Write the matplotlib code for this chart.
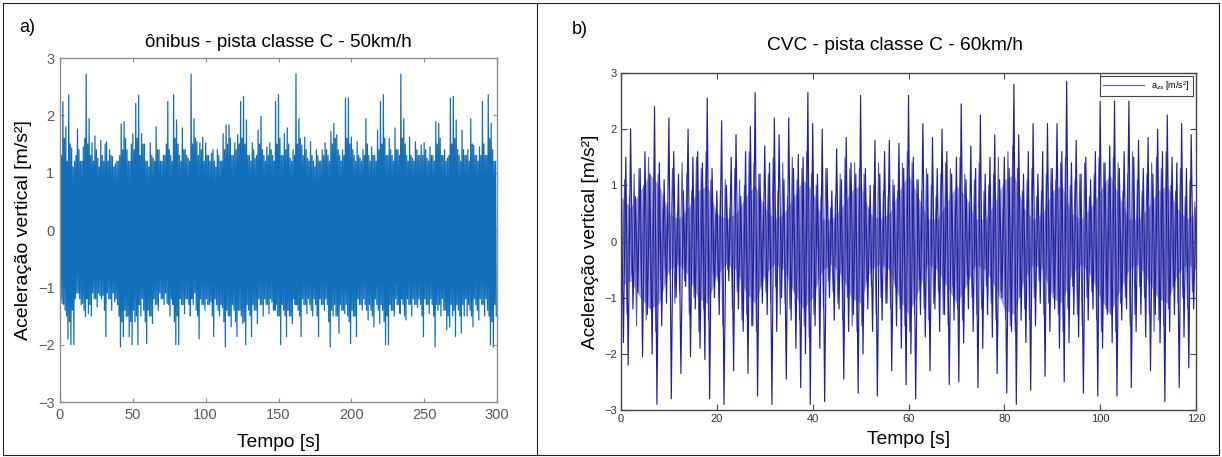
import numpy as np
import matplotlib
matplotlib.use("Agg")
import matplotlib.pyplot as plt
from matplotlib.lines import Line2D

plt.rcParams['font.family'] = ['Liberation Sans', 'DejaVu Sans']

# ---------------- Panel a data ----------------
# main spike peaks per 2 s bin
a_step = 2.0
a_upper = [1.48, 2.24, 1.8, 2.36, 1.43, 1.2, 1.76, 1.2, 1.45, 2.72,
           1.94, 1.52, 1.64, 1.25, 1.56, 1.2, 1.54, 1.4, 1.28, 1.15,
           1.2, 1.85, 1.89, 1.4, 1.2, 1.68, 2.21, 2.35, 1.68, 1.5,
           1.2, 1.52, 1.25, 1.8, 1.4, 1.2, 1.3, 2.24, 1.3, 2.36,
           1.92, 1.3, 1.78, 1.4, 1.25, 2.72, 1.94, 1.54, 1.52, 1.62,
           1.52, 1.3, 1.34, 1.2, 1.4, 1.2, 1.68, 1.83, 1.83, 1.3,
           1.52, 1.66, 2.24, 2.33, 1.92, 1.3, 1.52, 1.25, 1.74, 1.98,
           1.3, 1.45, 1.52, 1.3, 2.24, 2.36, 1.3, 1.68, 1.78, 1.25,
           1.4, 2.72, 1.94, 1.48, 1.62, 1.25, 1.54, 1.2, 1.4, 1.2,
           1.4, 1.52, 1.3, 1.72, 1.86, 1.66, 1.3, 1.4, 2.3, 2.3,
           1.62, 1.3, 1.54, 1.25, 1.4, 1.94, 1.3, 1.45, 1.3, 1.74,
           2.24, 2.36, 1.3, 1.6, 1.3, 1.78, 1.4, 2.72, 1.94, 1.3,
           1.62, 1.25, 1.54, 1.3, 1.48, 1.52, 1.25, 1.45, 1.3, 1.89,
           1.86, 1.3, 1.4, 1.25, 2.3, 2.33, 1.92, 1.3, 1.74, 1.3,
           1.4, 1.94, 1.48, 1.3, 1.45, 2.24, 1.3, 2.36, 1.86, 1.2]
a_lower = [-1.28, -1.4, -1.9, -2.0, -2.0, -1.1, -1.2, -1.28, -1.51, -1.46,
           -1.5, -1.2, -1.34, -1.15, -1.14, -1.86, -1.2, -1.4, -1.25, -1.3,
           -2.04, -1.86, -1.51, -1.86, -2.0, -1.6, -2.0, -1.5, -1.4, -1.98,
           -1.5, -1.63, -1.3, -1.4, -1.2, -1.3, -1.28, -1.5, -1.3, -2.0,
           -2.0, -1.3, -1.46, -1.2, -1.5, -1.3, -1.4, -1.9, -1.3, -1.4,
           -1.3, -1.25, -1.86, -1.3, -1.5, -1.35, -2.04, -1.5, -1.69, -1.4,
           -1.86, -1.4, -1.63, -2.0, -1.4, -1.86, -1.4, -1.63, -1.3, -1.5,
           -1.3, -1.46, -1.25, -1.4, -1.5, -2.0, -1.4, -1.86, -1.5, -1.63,
           -1.3, -1.4, -1.86, -1.3, -1.46, -1.3, -1.5, -1.3, -1.86, -1.3,
           -1.4, -1.3, -2.04, -1.5, -1.5, -1.8, -1.4, -1.46, -1.5, -1.98,
           -1.5, -1.86, -1.3, -1.4, -1.3, -1.57, -1.4, -1.69, -1.3, -1.63,
           -1.4, -2.0, -2.0, -1.4, -1.5, -1.3, -1.46, -1.3, -1.57, -1.3,
           -1.5, -1.3, -1.35, -1.3, -1.86, -1.3, -1.46, -1.3, -2.04, -1.4,
           -1.5, -1.4, -1.74, -1.69, -1.5, -1.86, -1.4, -1.8, -1.5, -1.5,
           -1.4, -1.69, -1.3, -1.57, -1.3, -1.5, -1.4, -2.0, -2.04, -1.5]
# secondary (in-between) peaks per 2 s bin
a_upper2 = [1.3, 1.6, 1.2, 1.5, 1.1, 1.3, 1.4, 1.2, 1.6, 1.5,
            1.3, 1.2, 1.4, 1.1, 1.3, 1.5, 1.2, 1.3, 1.1, 1.2,
            1.3, 1.4, 1.6, 1.2, 1.5, 1.4, 1.6, 1.3, 1.5, 1.2,
            1.1, 1.3, 1.2, 1.4, 1.2, 1.3, 1.5, 1.4, 1.2, 1.6,
            1.5, 1.2, 1.4, 1.3, 1.2, 1.5, 1.6, 1.3, 1.4, 1.2,
            1.3, 1.2, 1.4, 1.1, 1.3, 1.2, 1.4, 1.5, 1.6, 1.3,
            1.4, 1.5, 1.6, 1.5, 1.3, 1.2, 1.4, 1.3, 1.5, 1.4,
            1.2, 1.3, 1.4, 1.2, 1.5, 1.6, 1.3, 1.4, 1.5, 1.2,
            1.3, 1.5, 1.6, 1.3, 1.4, 1.2, 1.3, 1.1, 1.3, 1.2,
            1.3, 1.4, 1.2, 1.5, 1.6, 1.4, 1.2, 1.3, 1.6, 1.5,
            1.4, 1.2, 1.3, 1.2, 1.3, 1.5, 1.2, 1.3, 1.2, 1.4,
            1.5, 1.6, 1.3, 1.4, 1.2, 1.4, 1.3, 1.6, 1.5, 1.2,
            1.3, 1.2, 1.4, 1.3, 1.3, 1.4, 1.2, 1.3, 1.2, 1.5,
            1.6, 1.3, 1.2, 1.3, 1.5, 1.6, 1.4, 1.2, 1.4, 1.3,
            1.2, 1.5, 1.3, 1.2, 1.3, 1.5, 1.3, 1.6, 1.4, 1.2]
a_lower2 = [-1.2, -1.3, -1.5, -1.6, -1.4, -1.2, -1.1, -1.3, -1.4, -1.2,
            -1.3, -1.1, -1.2, -1.1, -1.2, -1.4, -1.1, -1.2, -1.1, -1.2,
            -1.5, -1.6, -1.4, -1.5, -1.6, -1.4, -1.5, -1.3, -1.2, -1.6,
            -1.4, -1.5, -1.2, -1.3, -1.1, -1.2, -1.1, -1.3, -1.2, -1.6,
            -1.5, -1.2, -1.3, -1.2, -1.3, -1.2, -1.1, -1.5, -1.2, -1.3,
            -1.2, -1.3, -1.5, -1.2, -1.4, -1.3, -1.6, -1.4, -1.5, -1.3,
            -1.6, -1.4, -1.5, -1.6, -1.3, -1.5, -1.3, -1.4, -1.2, -1.3,
            -1.2, -1.3, -1.2, -1.4, -1.3, -1.5, -1.3, -1.5, -1.4, -1.5,
            -1.2, -1.3, -1.5, -1.2, -1.3, -1.2, -1.4, -1.2, -1.5, -1.2,
            -1.3, -1.2, -1.6, -1.4, -1.3, -1.5, -1.3, -1.4, -1.3, -1.6,
            -1.4, -1.5, -1.2, -1.3, -1.2, -1.4, -1.3, -1.5, -1.2, -1.4,
            -1.3, -1.6, -1.5, -1.3, -1.4, -1.2, -1.3, -1.2, -1.5, -1.2,
            -1.3, -1.2, -1.3, -1.2, -1.5, -1.2, -1.3, -1.2, -1.5, -1.3,
            -1.3, -1.2, -1.4, -1.5, -1.3, -1.4, -1.3, -1.5, -1.3, -1.2,
            -1.3, -1.5, -1.2, -1.4, -1.2, -1.3, -1.2, -1.5, -1.6, -1.3]
a_xticks = [0, 50, 100, 150, 200, 250, 300]
a_yticks = [-3, -2, -1, 0, 1, 2, 3]

# ---------------- Panel b data ----------------
# main alternating extremes every 0.5 s
b_step = 0.5
b_vals = [1.2, -1.8, 1.5, -2.2, 2.0, -1.2, 0.8, -0.9, 1.3, -2.05, 1.6, -1.3, 1.2, -2.0, 2.4, -2.9, 1.4, -1.5, 1.1, -1.1,
          2.2, -2.8, 1.6, -1.0, 1.2, -2.35, 0.9, -0.8, 2.0, -2.05, 1.5, -1.2, 1.6, -1.9, 1.4, -2.1, 2.55, -2.8, 1.3, -1.0,
          0.9, -1.3, 2.15, -2.9, 1.0, -0.7, 1.5, -2.3, 1.9, -1.2, 0.8, -1.6, 1.6, -2.35, 2.05, -1.5, 2.65, -2.75, 1.2, -1.1,
          1.7, -1.3, 1.4, -2.9, 2.2, -1.6, 1.9, -1.0, 1.1, -2.45, 2.2, -1.4, 1.3, -1.9, 1.55, -2.6, 1.5, -2.0, 2.65, -2.9,
          2.1, -1.5, 1.2, -1.9, 2.0, -2.85, 1.3, -1.0, 0.9, -1.4, 1.65, -1.2, 1.1, -2.45, 1.85, -1.6, 1.4, -1.3, 1.2, -2.7,
          2.6, -2.0, 1.3, -1.2, 1.0, -1.6, 1.8, -2.75, 1.2, -1.4, 1.6, -1.1, 1.8, -2.3, 1.0, -1.5, 1.75, -1.9, 1.3, -2.55,
          2.6, -2.0, 1.5, -2.8, 1.1, -1.3, 2.1, -1.7, 1.2, -2.3, 1.85, -1.2, 1.3, -1.6, 2.0, -1.3, 1.6, -2.55, 1.2, -1.4,
          1.5, -2.5, 2.45, -1.8, 1.1, -1.2, 1.7, -1.6, 1.3, -2.6, 2.25, -1.9, 1.2, -1.3, 1.5, -1.7, 1.9, -2.35, 1.1, -1.0,
          1.5, -2.7, 1.3, -1.6, 2.8, -2.9, 1.9, -1.4, 1.2, -1.8, 1.6, -2.65, 2.1, -1.5, 1.2, -1.1, 1.6, -2.4, 2.1, -1.6,
          1.3, -1.2, 2.1, -1.9, 1.6, -2.5, 2.85, -1.8, 1.4, -1.3, 1.8, -1.7, 1.2, -2.7, 1.5, -1.4, 1.1, -1.2, 1.6, -2.75,
          2.5, -1.9, 1.4, -1.3, 1.7, -1.8, 2.5, -2.75, 1.3, -1.4, 1.6, -1.2, 2.5, -2.6, 1.5, -1.6, 1.8, -1.3, 1.3, -1.7,
          1.85, -2.3, 1.2, -1.3, 2.0, -1.8, 1.6, -2.85, 2.25, -1.6, 1.5, -1.3, 1.4, -2.6, 2.1, -1.7, 1.3, -2.25, 1.9, -1.2,
          0.6]
# secondary alternating extremes, offset by 0.25 s
b_offset2 = 0.25
b_vals2 = [-0.9, 1.1, -1.3, 0.8, -0.6, 1.2, -1.5, 1.3, -0.8, 1.0, -1.4, 1.5, -1.2, 0.9, -1.6, 1.2, -0.7, 0.6, -0.5, 0.7,
           -0.6, 1.3, -1.1, 0.5, -0.9, 1.4, -0.7, 1.2, -1.3, 0.9, -1.0, 1.5, -1.6, 1.3, -1.2, 1.6, -1.4, 1.1, -0.6, 0.5,
           -0.7, 0.9, -1.5, 1.1, -0.5, 0.6, -1.2, 1.3, -0.9, 1.1, -1.4, 1.0, -1.3, 1.6, -1.5, 1.4, -1.6, 1.2, -0.8, 0.7,
           -0.9, 1.2, -1.1, 1.5, -0.8, 0.9, -1.3, 1.4, -1.1, 0.8, -1.2, 1.5, -0.9, 1.1, -1.4, 1.3, -1.5, 1.6, -1.7, 1.2,
           -1.3, 1.0, -0.6, 0.8, -1.2, 1.3, -0.7, 0.6, -0.9, 0.8, -1.1, 1.2, -1.4, 1.5, -1.0, 1.3, -1.5, 1.4, -1.6, 1.3,
           -1.5, 1.2, -0.7, 0.6, -0.8, 1.0, -1.3, 1.4, -1.0, 0.9, -1.1, 0.8, -1.2, 1.1, -0.8, 0.9, -1.2, 1.4, -1.5, 1.6,
           -1.6, 1.4, -1.3, 1.1, -0.7, 0.9, -1.2, 1.3, -1.4, 1.0, -1.1, 0.8, -0.9, 1.2, -1.3, 1.4, -1.5, 1.3, -0.8, 0.7,
           -1.2, 1.5, -1.4, 1.2, -0.6, 0.7, -1.0, 1.1, -1.3, 1.4, -1.2, 0.9, -0.8, 1.0, -1.1, 1.2, -1.4, 1.5, -0.9, 0.6,
           -1.4, 1.6, -1.5, 1.7, -1.6, 1.3, -1.0, 0.9, -1.2, 1.1, -1.4, 1.3, -1.0, 0.8, -0.7, 0.9, -1.3, 1.2, -1.1, 1.3,
           -0.9, 1.1, -1.3, 1.4, -1.6, 1.5, -1.2, 1.0, -0.8, 1.1, -1.3, 1.2, -1.5, 1.4, -1.0, 0.8, -0.9, 1.2, -1.4, 1.5,
           -1.6, 1.4, -1.2, 1.0, -1.3, 1.5, -1.6, 1.4, -1.1, 0.9, -1.0, 1.2, -1.5, 1.6, -1.3, 1.1, -0.8, 0.9, -1.0, 1.2,
           -1.3, 1.4, -1.6, 1.5, -1.4, 1.3, -1.5, 1.6, -1.2, 1.0, -0.8, 0.9, -1.1, 1.3, -1.0, 0.8, -1.2, 1.1, -0.9, 0.7]
# envelope of the dense (lavender) band, every 2 s
b_core_step = 2.0
b_core_hi = [0.8, 0.6, 0.9, 1.2, 1.0, 0.5, 0.4, 0.6, 0.9, 1.0,
             0.5, 0.4, 0.5, 0.8, 1.0, 0.6, 0.4, 0.5, 0.8, 1.1,
             0.9, 0.4, 0.4, 0.6, 0.9, 1.0, 0.5, 0.4, 0.5, 0.9,
             1.2, 0.8, 0.4, 0.4, 0.7, 1.0, 0.8, 0.4, 0.4, 0.7,
             1.1, 1.2, 0.6, 0.4, 0.5, 0.9, 1.0, 0.5, 0.4, 0.6,
             0.9, 1.2, 0.8, 0.4, 0.4, 0.6, 0.9, 1.0, 0.6, 0.4,
             0.5]
b_core_lo = [-0.8, -0.7, -1.0, -1.2, -1.1, -0.5, -0.4, -0.6, -1.0, -1.1,
             -0.6, -0.4, -0.5, -0.9, -1.1, -0.6, -0.4, -0.5, -0.9, -1.2,
             -1.0, -0.5, -0.4, -0.6, -1.0, -1.1, -0.5, -0.4, -0.5, -1.0,
             -1.3, -0.9, -0.4, -0.5, -0.8, -1.1, -0.8, -0.4, -0.5, -0.8,
             -1.2, -1.3, -0.7, -0.4, -0.5, -1.0, -1.1, -0.6, -0.4, -0.6,
             -1.0, -1.3, -0.9, -0.5, -0.4, -0.7, -1.0, -1.1, -0.6, -0.4,
             -0.5]
b_xticks = [0, 20, 40, 60, 80, 100, 120]
b_yticks = [-3, -2, -1, 0, 1, 2, 3]

# ---------------- Build series ----------------
a_sig = np.empty(4 * len(a_upper))
a_sig[0::4] = a_upper
a_sig[1::4] = a_lower2
a_sig[2::4] = a_upper2
a_sig[3::4] = a_lower
a_t = np.arange(len(a_sig)) * (a_step / 4)

b_sig = np.array(b_vals)
b_t = np.arange(len(b_sig)) * b_step
b_sig2 = np.array(b_vals2)
b_t2 = b_offset2 + np.arange(len(b_sig2)) * b_step
b_core_t = np.arange(len(b_core_hi)) * b_core_step

W, H = 1222, 457
fig = plt.figure(figsize=(W / 100, H / 100), dpi=100)

def fx(px):
    return px / W

def fy(py):
    return 1 - py / H

# Panel a
axa = fig.add_axes([fx(60), fy(402), fx(497) - fx(60), fy(58) - fy(402)])
axa.plot(a_t, a_sig, color='#1270bb', lw=0.9, zorder=2)
axa.set_xlim(0, 300)
axa.set_ylim(-3, 3)
axa.set_xticks(a_xticks)
axa.set_yticks(a_yticks)
for s in axa.spines.values():
    s.set_color('#8f8f8f')
    s.set_linewidth(1.0)
    s.set_zorder(5)
axa.tick_params(direction='in', top=True, right=True, length=3, width=0.8,
                colors='#8f8f8f', labelcolor='#5a5a5a', labelsize=10.5, pad=4)
axa.set_xlabel('Tempo [s]', fontsize=13.8, labelpad=9)
axa.set_ylabel('Aceleração vertical [m/s²]', fontsize=14, labelpad=4)
axa.set_title('ônibus - pista classe C - 50km/h', fontsize=13.5, pad=8)

# Panel b
axb = fig.add_axes([fx(621), fy(410), fx(1196) - fx(621), fy(73) - fy(410)])
axb.fill_between(b_core_t, b_core_lo, b_core_hi, color='#a3a3d3', lw=0, zorder=1)
axb.plot(b_t2, b_sig2, color='#5656b9', lw=0.75, zorder=2)
axb.plot(b_t, b_sig, color='#2020a4', lw=0.85, label='a$_{zs}$ [m/s²]', zorder=3)
axb.set_xlim(0, 120)
axb.set_ylim(-3, 3)
axb.set_xticks(b_xticks)
axb.set_yticks(b_yticks)
for s in axb.spines.values():
    s.set_color('#444444')
    s.set_linewidth(1.0)
    s.set_zorder(5)
axb.tick_params(direction='in', top=True, right=True, length=4, width=0.8,
                colors='#444444', labelcolor='#333333', labelsize=8, pad=3)
axb.set_xlabel('Tempo [s]', fontsize=13.8, labelpad=5)
axb.set_ylabel('Aceleração vertical [m/s²]', fontsize=13.8, labelpad=4)
fig.text(fx(895), fy(46), 'CVC - pista classe C - 60km/h', fontsize=13.8,
         ha='center', va='center')
leg = axb.legend(loc='upper right', fontsize=6.5, frameon=True, fancybox=False,
                 edgecolor='#444444', borderaxespad=0.3, handlelength=4.5,
                 borderpad=0.4, framealpha=1)
leg.get_frame().set_linewidth(0.8)
leg.set_zorder(6)
leg.get_lines()[0].set_color('#5c5cb4')

# Panel labels
fig.text(fx(19), fy(28), 'a)', fontsize=13, va='center')
fig.text(fx(572), fy(30), 'b)', fontsize=13, va='center')

# Frame and divider
for (x0, y0, x1, y1) in [(3, 3, 1219, 3), (3, 455, 1219, 455), (3, 3, 3, 455),
                         (1219, 3, 1219, 455), (537, 3, 537, 455)]:
    fig.add_artist(Line2D([fx(x0), fx(x1)], [fy(y0), fy(y1)], color='#222222', lw=0.8))

fig.savefig('out.png', dpi=100)
